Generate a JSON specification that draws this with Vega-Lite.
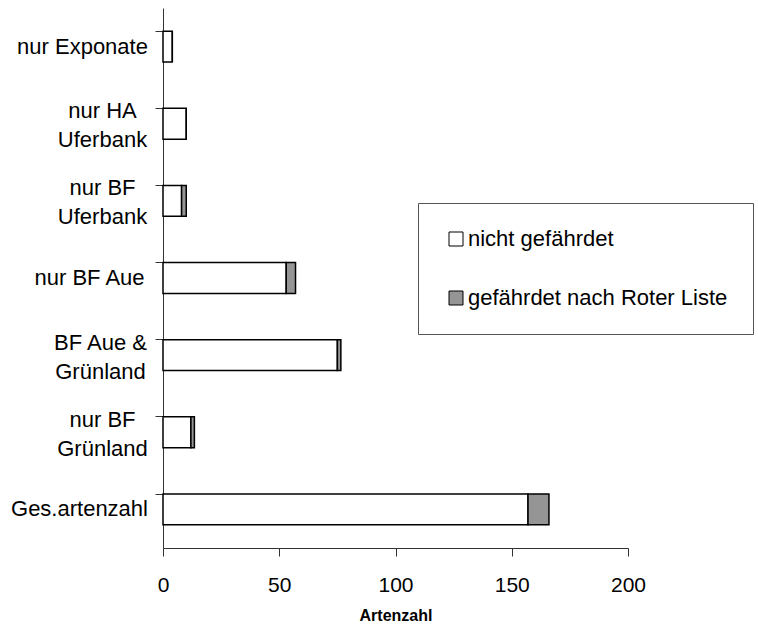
{
  "$schema": "https://vega.github.io/schema/vega-lite/v6.json",
  "width": 465,
  "height": 540,
  "padding": {"left": 10, "top": 8, "right": 0, "bottom": 5},
  "config": {
    "font": "Liberation Sans",
    "view": {"stroke": null},
    "axis": {"grid": false, "domainColor": "#333333", "tickColor": "#333333", "labelColor": "#000000"}
  },
  "data": {
    "values": [
      {"kategorie": "nur Exponate", "status": "nicht gefährdet", "artenzahl": 4},
      {"kategorie": "nur Exponate", "status": "gefährdet nach Roter Liste", "artenzahl": 0},
      {"kategorie": "nur HA\nUferbank", "status": "nicht gefährdet", "artenzahl": 10},
      {"kategorie": "nur HA\nUferbank", "status": "gefährdet nach Roter Liste", "artenzahl": 0},
      {"kategorie": "nur BF\nUferbank", "status": "nicht gefährdet", "artenzahl": 8},
      {"kategorie": "nur BF\nUferbank", "status": "gefährdet nach Roter Liste", "artenzahl": 2},
      {"kategorie": "nur BF  Aue", "status": "nicht gefährdet", "artenzahl": 53},
      {"kategorie": "nur BF  Aue", "status": "gefährdet nach Roter Liste", "artenzahl": 4},
      {"kategorie": "BF Aue &\nGrünland", "status": "nicht gefährdet", "artenzahl": 75},
      {"kategorie": "BF Aue &\nGrünland", "status": "gefährdet nach Roter Liste", "artenzahl": 1.5},
      {"kategorie": "nur BF\nGrünland", "status": "nicht gefährdet", "artenzahl": 12},
      {"kategorie": "nur BF\nGrünland", "status": "gefährdet nach Roter Liste", "artenzahl": 1.5},
      {"kategorie": "Ges.artenzahl", "status": "nicht gefährdet", "artenzahl": 157},
      {"kategorie": "Ges.artenzahl", "status": "gefährdet nach Roter Liste", "artenzahl": 9}
    ]
  },
  "mark": {"type": "bar", "stroke": "#000000", "strokeWidth": 1.5},
  "encoding": {
    "y": {
      "field": "kategorie",
      "type": "nominal",
      "sort": ["nur Exponate", "nur HA\nUferbank", "nur BF\nUferbank", "nur BF  Aue", "BF Aue &\nGrünland", "nur BF\nGrünland", "Ges.artenzahl"],
      "scale": {"paddingInner": 0.6, "paddingOuter": 0.3},
      "axis": {
        "title": null,
        "bandPosition": 0,
        "tickSize": 8,
        "labelFontSize": 22,
        "labelLineHeight": 29,
        "labelLimit": 300,
        "labelExpr": "split(datum.label, '\\n')",
        "labelAlign": "center",
        "labelBaseline": "middle",
        "labelOffset": {
          "condition": {"test": "indexof(datum.value, '\\n') >= 0", "value": -12.5},
          "value": 0
        },
        "labelPadding": {
          "condition": [
            {"test": "datum.value == 'nur Exponate'", "value": 73},
            {"test": "datum.value == 'Ges.artenzahl'", "value": 76},
            {"test": "datum.value == 'nur BF  Aue'", "value": 66},
            {"test": "datum.value == 'BF Aue &\\nGrünland'", "value": 55}
          ],
          "value": 53
        }
      }
    },
    "x": {
      "field": "artenzahl",
      "type": "quantitative",
      "aggregate": "sum",
      "stack": "zero",
      "scale": {"domain": [0, 200], "nice": false},
      "axis": {
        "title": "Artenzahl",
        "titleFontSize": 16,
        "titleFontWeight": "bold",
        "titlePadding": 12,
        "values": [0, 50, 100, 150, 200],
        "tickSize": 8,
        "labelFontSize": 21,
        "labelPadding": 18,
        "labelFlush": false
      }
    },
    "color": {
      "field": "status",
      "type": "nominal",
      "scale": {"domain": ["nicht gefährdet", "gefährdet nach Roter Liste"], "range": ["#ffffff", "#959595"]},
      "legend": {
        "title": null,
        "orient": "none",
        "legendX": 255,
        "legendY": 195,
        "strokeColor": "#555555",
        "padding": 25,
        "symbolType": "square",
        "symbolSize": 196,
        "symbolStrokeColor": "#000000",
        "symbolStrokeWidth": 1,
        "symbolOffset": 2,
        "labelFontSize": 22,
        "labelOffset": 1,
        "labelLimit": 400,
        "rowPadding": 37
      }
    },
    "order": {"field": "status", "sort": "descending"}
  }
}
